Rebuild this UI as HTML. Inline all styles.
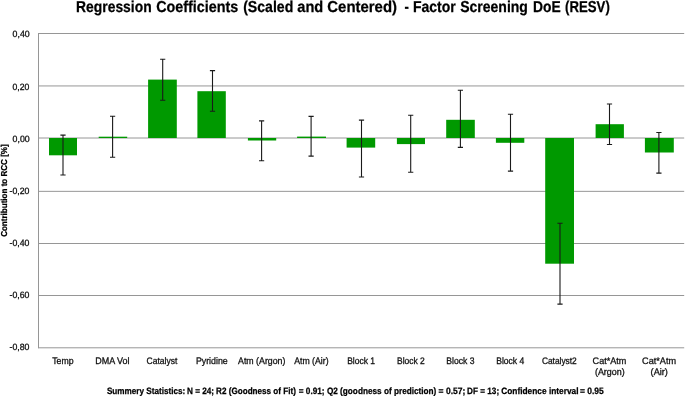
<!DOCTYPE html><html><head><meta charset="utf-8"><style>html,body{margin:0;padding:0;background:#fff;overflow:hidden}svg{display:block;will-change:transform}text{font-family:"Liberation Sans",sans-serif;white-space:pre;text-rendering:geometricPrecision}</style></head><body>
<svg width="685" height="396" viewBox="0 0 685 396">
<rect width="685" height="396" fill="#fff"/>
<line x1="38.5" y1="33.5" x2="684.2" y2="33.5" stroke="#969696" stroke-width="1"/>
<line x1="38.5" y1="85.95" x2="684.2" y2="85.95" stroke="#969696" stroke-width="1"/>
<line x1="38.5" y1="138.0" x2="684.2" y2="138.0" stroke="#969696" stroke-width="1"/>
<line x1="38.5" y1="191.35" x2="684.2" y2="191.35" stroke="#969696" stroke-width="1"/>
<line x1="38.5" y1="243.5" x2="684.2" y2="243.5" stroke="#969696" stroke-width="1"/>
<line x1="38.5" y1="295.5" x2="684.2" y2="295.5" stroke="#969696" stroke-width="1"/>
<line x1="38.5" y1="347.8" x2="684.2" y2="347.8" stroke="#969696" stroke-width="1"/>
<line x1="38.5" y1="33" x2="38.5" y2="348.3" stroke="#969696" stroke-width="1"/>
<rect x="49.0" y="138.0" width="28.00" height="17.30" fill="#009900"/>
<rect x="98.7" y="136.7" width="28.50" height="1.30" fill="#009900"/>
<rect x="148.1" y="79.6" width="28.70" height="58.40" fill="#009900"/>
<rect x="197.4" y="91.2" width="28.40" height="46.80" fill="#009900"/>
<rect x="247.9" y="138.0" width="28.30" height="2.50" fill="#009900"/>
<rect x="297.1" y="136.6" width="28.90" height="1.40" fill="#009900"/>
<rect x="346.6" y="138.0" width="28.60" height="9.60" fill="#009900"/>
<rect x="396.9" y="138.0" width="28.10" height="6.10" fill="#009900"/>
<rect x="446.2" y="119.8" width="28.60" height="18.20" fill="#009900"/>
<rect x="495.9" y="138.0" width="28.40" height="4.80" fill="#009900"/>
<rect x="545.2" y="138.0" width="28.80" height="125.70" fill="#009900"/>
<rect x="595.6" y="124.2" width="28.30" height="13.80" fill="#009900"/>
<rect x="644.9" y="138.0" width="28.90" height="14.50" fill="#009900"/>
<path d="M63.0 135.1V175.0M60.40 135.1h5.2M60.40 175.0h5.2" stroke="#1a1a1a" stroke-width="1.1" fill="none"/>
<path d="M112.6 116.3V157.2M110.00 116.3h5.2M110.00 157.2h5.2" stroke="#1a1a1a" stroke-width="1.1" fill="none"/>
<path d="M162.7 59.2V100.3M160.10 59.2h5.2M160.10 100.3h5.2" stroke="#1a1a1a" stroke-width="1.1" fill="none"/>
<path d="M212.5 70.6V111.3M209.90 70.6h5.2M209.90 111.3h5.2" stroke="#1a1a1a" stroke-width="1.1" fill="none"/>
<path d="M261.6 120.9V160.8M259.00 120.9h5.2M259.00 160.8h5.2" stroke="#1a1a1a" stroke-width="1.1" fill="none"/>
<path d="M311.1 116.4V156.1M308.50 116.4h5.2M308.50 156.1h5.2" stroke="#1a1a1a" stroke-width="1.1" fill="none"/>
<path d="M361.5 120.1V177.0M358.90 120.1h5.2M358.90 177.0h5.2" stroke="#1a1a1a" stroke-width="1.1" fill="none"/>
<path d="M410.7 115.3V172.2M408.10 115.3h5.2M408.10 172.2h5.2" stroke="#1a1a1a" stroke-width="1.1" fill="none"/>
<path d="M460.4 90.3V147.4M457.80 90.3h5.2M457.80 147.4h5.2" stroke="#1a1a1a" stroke-width="1.1" fill="none"/>
<path d="M510.5 114.3V171.1M507.90 114.3h5.2M507.90 171.1h5.2" stroke="#1a1a1a" stroke-width="1.1" fill="none"/>
<path d="M560.0 223.3V304.1M557.40 223.3h5.2M557.40 304.1h5.2" stroke="#1a1a1a" stroke-width="1.1" fill="none"/>
<path d="M609.5 104.0V144.5M606.90 104.0h5.2M606.90 144.5h5.2" stroke="#1a1a1a" stroke-width="1.1" fill="none"/>
<path d="M658.9 132.5V173.1M656.30 132.5h5.2M656.30 173.1h5.2" stroke="#1a1a1a" stroke-width="1.1" fill="none"/>
<text x="62.85" y="363.75" font-size="9.45" font-weight="normal" text-anchor="middle" fill="#111" stroke="#111" stroke-width="0.3" textLength="21.25" lengthAdjust="spacingAndGlyphs">Temp</text>
<text x="112.41" y="363.75" font-size="9.45" font-weight="normal" text-anchor="middle" fill="#111" stroke="#111" stroke-width="0.3" textLength="34.33" lengthAdjust="spacingAndGlyphs">DMA Vol</text>
<text x="161.99" y="363.75" font-size="9.45" font-weight="normal" text-anchor="middle" fill="#111" stroke="#111" stroke-width="0.3" textLength="30.75" lengthAdjust="spacingAndGlyphs">Catalyst</text>
<text x="211.80" y="363.75" font-size="9.45" font-weight="normal" text-anchor="middle" fill="#111" stroke="#111" stroke-width="0.3" textLength="31.85" lengthAdjust="spacingAndGlyphs">Pyridine</text>
<text x="261.75" y="363.75" font-size="9.45" font-weight="normal" text-anchor="middle" fill="#111" stroke="#111" stroke-width="0.3" textLength="47.39" lengthAdjust="spacingAndGlyphs">Atm (Argon)</text>
<text x="311.39" y="363.75" font-size="9.45" font-weight="normal" text-anchor="middle" fill="#111" stroke="#111" stroke-width="0.3" textLength="34.32" lengthAdjust="spacingAndGlyphs">Atm (Air)</text>
<text x="361.08" y="363.75" font-size="9.45" font-weight="normal" text-anchor="middle" fill="#111" stroke="#111" stroke-width="0.3" textLength="27.88" lengthAdjust="spacingAndGlyphs">Block 1</text>
<text x="410.94" y="363.75" font-size="9.45" font-weight="normal" text-anchor="middle" fill="#111" stroke="#111" stroke-width="0.3" textLength="27.71" lengthAdjust="spacingAndGlyphs">Block 2</text>
<text x="460.37" y="363.75" font-size="9.45" font-weight="normal" text-anchor="middle" fill="#111" stroke="#111" stroke-width="0.3" textLength="28.14" lengthAdjust="spacingAndGlyphs">Block 3</text>
<text x="510.18" y="363.75" font-size="9.45" font-weight="normal" text-anchor="middle" fill="#111" stroke="#111" stroke-width="0.3" textLength="27.98" lengthAdjust="spacingAndGlyphs">Block 4</text>
<text x="559.33" y="363.75" font-size="9.45" font-weight="normal" text-anchor="middle" fill="#111" stroke="#111" stroke-width="0.3" textLength="34.82" lengthAdjust="spacingAndGlyphs">Catalyst2</text>
<text x="609.45" y="363.75" font-size="9.45" font-weight="normal" text-anchor="middle" fill="#111" stroke="#111" stroke-width="0.3" textLength="33.69" lengthAdjust="spacingAndGlyphs">Cat*Atm</text>
<text x="609.80" y="375.35" font-size="9.45" font-weight="normal" text-anchor="middle" fill="#111" stroke="#111" stroke-width="0.3" textLength="29.68" lengthAdjust="spacingAndGlyphs">(Argon)</text>
<text x="659.07" y="363.75" font-size="9.45" font-weight="normal" text-anchor="middle" fill="#111" stroke="#111" stroke-width="0.3" textLength="33.96" lengthAdjust="spacingAndGlyphs">Cat*Atm</text>
<text x="659.27" y="375.35" font-size="9.45" font-weight="normal" text-anchor="middle" fill="#111" stroke="#111" stroke-width="0.3" textLength="17.31" lengthAdjust="spacingAndGlyphs">(Air)</text>
<text x="21.16" y="37.3" font-size="9.1" font-weight="normal" text-anchor="middle" fill="#111" stroke="#111" stroke-width="0.3" textLength="17.08" lengthAdjust="spacingAndGlyphs">0,40</text>
<text x="20.91" y="89.55" font-size="9.1" font-weight="normal" text-anchor="middle" fill="#111" stroke="#111" stroke-width="0.3" textLength="16.81" lengthAdjust="spacingAndGlyphs">0,20</text>
<text x="21.16" y="141.75" font-size="9.1" font-weight="normal" text-anchor="middle" fill="#111" stroke="#111" stroke-width="0.3" textLength="17.08" lengthAdjust="spacingAndGlyphs">0,00</text>
<text x="19.48" y="193.9" font-size="9.1" font-weight="normal" text-anchor="middle" fill="#111" stroke="#111" stroke-width="0.3" textLength="19.93" lengthAdjust="spacingAndGlyphs">-0,20</text>
<text x="19.48" y="246.05" font-size="9.1" font-weight="normal" text-anchor="middle" fill="#111" stroke="#111" stroke-width="0.3" textLength="19.93" lengthAdjust="spacingAndGlyphs">-0,40</text>
<text x="19.48" y="298.2" font-size="9.1" font-weight="normal" text-anchor="middle" fill="#111" stroke="#111" stroke-width="0.3" textLength="19.93" lengthAdjust="spacingAndGlyphs">-0,60</text>
<text x="19.48" y="350.4" font-size="9.1" font-weight="normal" text-anchor="middle" fill="#111" stroke="#111" stroke-width="0.3" textLength="19.93" lengthAdjust="spacingAndGlyphs">-0,80</text>
<text x="113.88" y="12.1" font-size="15.8" font-weight="bold" text-anchor="middle" fill="#000" stroke="#000" stroke-width="0.25" textLength="75.55" lengthAdjust="spacingAndGlyphs">Regression</text>
<text x="197.21" y="12.1" font-size="15.8" font-weight="bold" text-anchor="middle" fill="#000" stroke="#000" stroke-width="0.25" textLength="82.14" lengthAdjust="spacingAndGlyphs">Coefficients</text>
<text x="268.24" y="12.1" font-size="15.8" font-weight="bold" text-anchor="middle" fill="#000" stroke="#000" stroke-width="0.25" textLength="50.15" lengthAdjust="spacingAndGlyphs">(Scaled</text>
<text x="310.26" y="12.1" font-size="15.8" font-weight="bold" text-anchor="middle" fill="#000" stroke="#000" stroke-width="0.25" textLength="25.92" lengthAdjust="spacingAndGlyphs">and</text>
<text x="362.16" y="12.1" font-size="15.8" font-weight="bold" text-anchor="middle" fill="#000" stroke="#000" stroke-width="0.25" textLength="69.64" lengthAdjust="spacingAndGlyphs">Centered)</text>
<text x="406.68" y="12.1" font-size="15.8" font-weight="bold" text-anchor="middle" fill="#000" stroke="#000" stroke-width="0.25" textLength="4.37" lengthAdjust="spacingAndGlyphs">-</text>
<text x="434.30" y="12.1" font-size="15.8" font-weight="bold" text-anchor="middle" fill="#000" stroke="#000" stroke-width="0.25" textLength="42.82" lengthAdjust="spacingAndGlyphs">Factor</text>
<text x="494.05" y="12.1" font-size="15.8" font-weight="bold" text-anchor="middle" fill="#000" stroke="#000" stroke-width="0.25" textLength="67.70" lengthAdjust="spacingAndGlyphs">Screening</text>
<text x="546.84" y="12.1" font-size="15.8" font-weight="bold" text-anchor="middle" fill="#000" stroke="#000" stroke-width="0.25" textLength="27.68" lengthAdjust="spacingAndGlyphs">DoE</text>
<text x="587.46" y="12.1" font-size="15.8" font-weight="bold" text-anchor="middle" fill="#000" stroke="#000" stroke-width="0.25" textLength="44.71" lengthAdjust="spacingAndGlyphs">(RESV)</text>
<text x="146.09" y="393.85" font-size="9.2" font-weight="bold" text-anchor="middle" fill="#000" stroke="#000" stroke-width="0.25" textLength="78.42" lengthAdjust="spacingAndGlyphs">Summery Statistics:</text>
<text x="200.54" y="393.85" font-size="9.2" font-weight="bold" text-anchor="middle" fill="#000" stroke="#000" stroke-width="0.25" textLength="27.11" lengthAdjust="spacingAndGlyphs">N = 24;</text>
<text x="255.98" y="393.85" font-size="9.2" font-weight="bold" text-anchor="middle" fill="#000" stroke="#000" stroke-width="0.25" textLength="79.73" lengthAdjust="spacingAndGlyphs">R2 (Goodness of Fit)</text>
<text x="311.65" y="393.85" font-size="9.2" font-weight="bold" text-anchor="middle" fill="#000" stroke="#000" stroke-width="0.25" textLength="25.83" lengthAdjust="spacingAndGlyphs">= 0.91;</text>
<text x="381.61" y="393.85" font-size="9.2" font-weight="bold" text-anchor="middle" fill="#000" stroke="#000" stroke-width="0.25" textLength="109.47" lengthAdjust="spacingAndGlyphs">Q2 (goodness of prediction)</text>
<text x="451.97" y="393.85" font-size="9.2" font-weight="bold" text-anchor="middle" fill="#000" stroke="#000" stroke-width="0.25" textLength="26.71" lengthAdjust="spacingAndGlyphs">= 0.57;</text>
<text x="483.11" y="393.85" font-size="9.2" font-weight="bold" text-anchor="middle" fill="#000" stroke="#000" stroke-width="0.25" textLength="32.00" lengthAdjust="spacingAndGlyphs">DF = 13;</text>
<text x="539.89" y="393.85" font-size="9.2" font-weight="bold" text-anchor="middle" fill="#000" stroke="#000" stroke-width="0.25" textLength="77.19" lengthAdjust="spacingAndGlyphs">Confidence interval</text>
<text x="591.90" y="393.85" font-size="9.2" font-weight="bold" text-anchor="middle" fill="#000" stroke="#000" stroke-width="0.25" textLength="23.83" lengthAdjust="spacingAndGlyphs">= 0.95</text>
<text transform="translate(6.9,190.62) rotate(-90)" x="0" y="0" font-size="8.65" font-weight="bold" text-anchor="middle" fill="#000" stroke="#000" stroke-width="0.25" textLength="92.53" lengthAdjust="spacingAndGlyphs">Contribution to RCC [%]</text>
</svg></body></html>
